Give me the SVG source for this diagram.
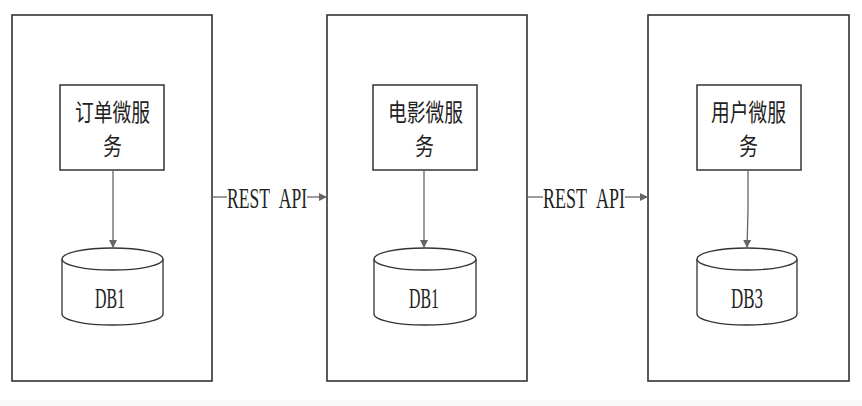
<svg xmlns="http://www.w3.org/2000/svg" width="862" height="406" viewBox="0 0 862 406">
<defs>
<marker id="ah" markerWidth="10" markerHeight="10" refX="9" refY="5" orient="auto" markerUnits="userSpaceOnUse">
<path d="M1,1 L9,5 L1,9 Z" fill="#666"/>
</marker>
<style>
.outer{fill:#fff;stroke:#333;stroke-width:1.6}
.svc{fill:#fff;stroke:#333;stroke-width:1.5}
.db{fill:#fff;stroke:#333;stroke-width:1.3}
.cn{fill:none;stroke:#666;stroke-width:1.3}
.cjk{font-family:"Noto Sans CJK SC","Noto Sans",sans-serif;font-size:24px;fill:#222}
.mono{font-family:"Liberation Serif","DejaVu Serif",serif;font-size:30px;fill:#222}
.api{word-spacing:10px}
</style>
</defs>
<rect x="0" y="0" width="862" height="406" fill="#fff"/>
<rect x="0" y="400" width="862" height="6" fill="#f8f8f8"/>

<g id="order">
<rect class="outer" x="12" y="15" width="200" height="366"/>
<rect class="svc" x="60" y="85" width="104" height="85"/>
<text class="cjk" x="75" y="121" textLength="75" lengthAdjust="spacingAndGlyphs">订单微服</text>
<text class="cjk" x="103" y="155" textLength="19" lengthAdjust="spacingAndGlyphs">务</text>
</g>
<g id="db-order">
<path class="db" d="M62,259 A50.5,11 0 0 1 163,259 L163,314 A50.5,11 0 0 1 62,314 Z"/>
<path class="db" d="M62,259 A50.5,11 0 0 0 163,259"/>
<text class="mono" x="95" y="308" textLength="30" lengthAdjust="spacingAndGlyphs">DB1</text>
</g>

<g id="movie">
<rect class="outer" x="327" y="15" width="200" height="366"/>
<rect class="svc" x="373" y="85" width="104" height="85"/>
<text class="cjk" x="388" y="121" textLength="75" lengthAdjust="spacingAndGlyphs">电影微服</text>
<text class="cjk" x="415" y="155" textLength="19" lengthAdjust="spacingAndGlyphs">务</text>
</g>
<g id="db-movie">
<path class="db" d="M374,259 A51,11 0 0 1 476,259 L476,314 A51,11 0 0 1 374,314 Z"/>
<path class="db" d="M374,259 A51,11 0 0 0 476,259"/>
<text class="mono" x="409" y="308" textLength="30" lengthAdjust="spacingAndGlyphs">DB1</text>
</g>

<g id="user">
<rect class="outer" x="648" y="15" width="201" height="366"/>
<rect class="svc" x="697" y="85" width="104" height="85"/>
<text class="cjk" x="711" y="121" textLength="75" lengthAdjust="spacingAndGlyphs">用户微服</text>
<text class="cjk" x="739" y="155" textLength="19" lengthAdjust="spacingAndGlyphs">务</text>
</g>
<g id="db-user">
<path class="db" d="M697,259 A50,11 0 0 1 797,259 L797,314 A50,11 0 0 1 697,314 Z"/>
<path class="db" d="M697,259 A50,11 0 0 0 797,259"/>
<text class="mono" x="731" y="308" textLength="32" lengthAdjust="spacingAndGlyphs">DB3</text>
</g>

<g id="connectors">
<line class="cn" x1="113" y1="170" x2="113" y2="248" marker-end="url(#ah)"/>
<line class="cn" x1="424" y1="170" x2="424" y2="248" marker-end="url(#ah)"/>
<path class="cn" d="M748,170 L748,210 L747,248" marker-end="url(#ah)"/>
<line class="cn" x1="212" y1="197" x2="227" y2="197"/>
<line class="cn" x1="307" y1="197" x2="327" y2="197" marker-end="url(#ah)"/>
<text class="mono api" x="227" y="208" textLength="80" lengthAdjust="spacingAndGlyphs">REST API</text>
<line class="cn" x1="527" y1="197" x2="543" y2="197"/>
<line class="cn" x1="625" y1="197" x2="648" y2="197" marker-end="url(#ah)"/>
<text class="mono api" x="543" y="208" textLength="82" lengthAdjust="spacingAndGlyphs">REST API</text>
</g>
</svg>
